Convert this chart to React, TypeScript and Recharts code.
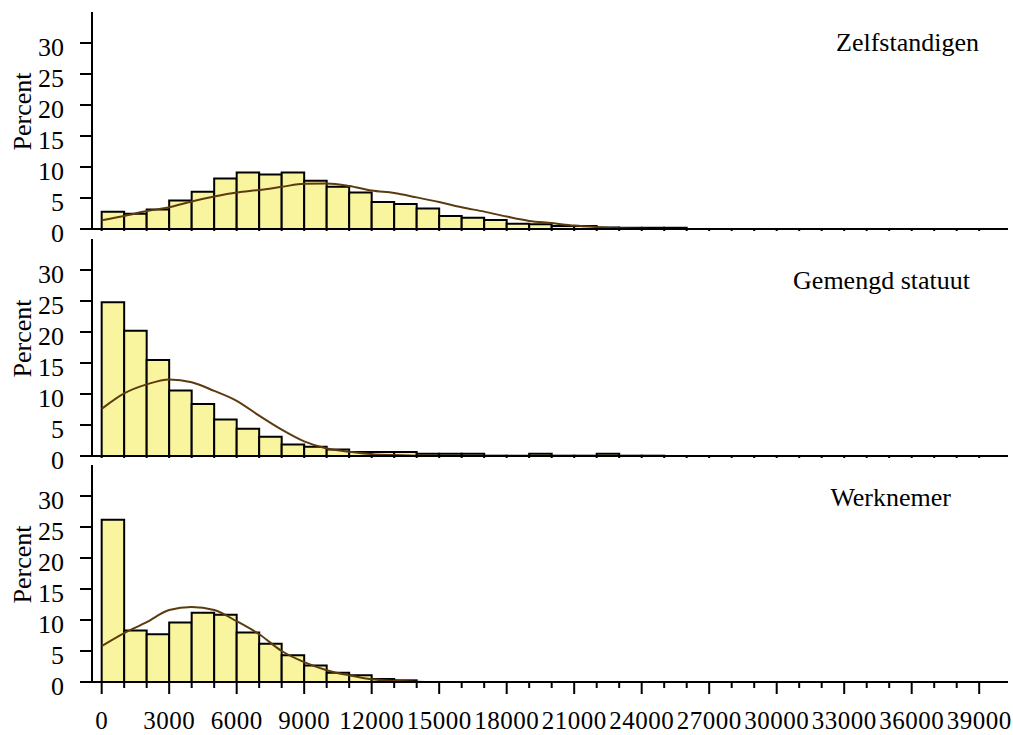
import { ComposedChart, Bar, Line, XAxis, YAxis } from 'recharts';

// bin midpoints (bins are 1000 wide, starting at 0)
const binMid = [
  500, 1500, 2500, 3500, 4500, 5500, 6500, 7500, 8500, 9500,
  10500, 11500, 12500, 13500, 14500, 15500, 16500, 17500, 18500, 19500,
  20500, 21500, 22500, 23500, 24500, 25500,
];

// percent per bin
const zelfstandigen = [
  2.8, 2.45, 3.15, 4.6, 6.0, 8.15, 9.1, 8.8, 9.1, 7.8,
  6.8, 5.9, 4.35, 4.05, 3.3, 2.1, 1.8, 1.45, 0.85, 0.75,
  0.5, 0.5, 0.25, 0.2, 0.2, 0.2,
];
const gemengd = [
  24.8, 20.2, 15.5, 10.55, 8.4, 5.9, 4.4, 3.1, 1.86, 1.5,
  1.05, 0.65, 0.65, 0.65, 0.35, 0.35, 0.35, 0.05, 0.05, 0.35,
  0.05, 0.05, 0.35, 0.05, 0.05,
];
const werknemer = [
  26.15, 8.3, 7.7, 9.6, 11.15, 10.85, 8.0, 6.15, 4.3, 2.68,
  1.5, 1.1, 0.5, 0.27,
];

// fitted normal curves, read at every 1000
const curveX = [
  0, 1000, 2000, 3000, 4000, 5000, 6000, 7000, 8000, 9000,
  10000, 11000, 12000, 13000, 14000, 15000, 16000, 17000, 18000, 19000,
  20000, 21000, 22000, 23000, 24000, 25000,
];
const zelfCurve = [
  1.4, 2.1, 2.9, 3.5, 4.45, 5.25, 5.9, 6.3, 6.8, 7.3,
  7.35, 6.95, 6.2, 5.8, 5.1, 4.35, 3.5, 2.8, 2.0, 1.3,
  0.95, 0.55, 0.3, 0.12, 0.04, 0,
];
const gemengdCurve = [
  7.6, 10.1, 11.55, 12.35, 11.9, 10.5, 8.9, 6.5, 4.25, 2.35,
  1.2, 0.7, 0.3, 0.15, 0.05, 0,
];
const werkCurve = [
  5.8, 7.9, 9.65, 11.6, 12.1, 11.6, 9.8, 7.7, 5.0, 3.2,
  1.9, 1.07, 0.43, 0.2, 0.05, 0,
];

const xTicks = [
  0, 1000, 2000, 3000, 4000, 5000, 6000, 7000, 8000, 9000,
  10000, 11000, 12000, 13000, 14000, 15000, 16000, 17000, 18000, 19000,
  20000, 21000, 22000, 23000, 24000, 25000, 26000, 27000, 28000, 29000,
  30000, 31000, 32000, 33000, 34000, 35000, 36000, 37000, 38000, 39000,
];
const yTicks = [0, 5, 10, 15, 20, 25, 30];

const titles = ['Zelfstandigen', 'Gemengd statuut', 'Werknemer'];

const FONT = "'Liberation Serif', 'DejaVu Serif', serif";
const X_DOMAIN: [number, number] = [-430, 40280];
const axisStyle = { stroke: '#000', strokeWidth: 2 };

const XTick = (props: any) => {
  const { x, y, payload, last } = props;
  const major = payload.value % 3000 === 0;
  const len = last ? (major ? 12 : 6) : 2;
  return (
    <g>
      <line x1={x} x2={x} y1={y} y2={y + len} stroke="#000" strokeWidth={2} />
      {last && major && (
        <text
          x={x}
          y={y + 47}
          textAnchor="middle"
          fontSize={25}
          letterSpacing={0.5}
          fontFamily={FONT}
          fill="#000"
        >
          {payload.value}
        </text>
      )}
    </g>
  );
};

const YTick = (props: any) => {
  const { x, y, payload } = props;
  return (
    <text x={x} y={y + 13} textAnchor="end" fontSize={26} fontFamily={FONT} fill="#000">
      {payload.value}
    </text>
  );
};

const PercentLabel = (props: any) => {
  const { viewBox } = props;
  const cx = viewBox.x + 22;
  const cy = viewBox.y + viewBox.height / 2 - 9;
  return (
    <text
      x={cx}
      y={cy}
      dy={8.5}
      transform={`rotate(-90, ${cx}, ${cy})`}
      textAnchor="middle"
      fontSize={26}
      fontFamily={FONT}
      fill="#000"
    >
      Percent
    </text>
  );
};

function Panel({ values, curve, top, last }: { values: number[]; curve: number[]; top: number; last: boolean }) {
  const bars = values.map((v, i) => ({ x: binMid[i], pct: v }));
  const fit = curve.map((v, i) => ({ x: curveX[i], fit: v }));
  return (
    <div style={{ position: 'absolute', left: 0, top }}>
      <ComposedChart
        width={1013}
        height={last ? 282 : 252}
        data={bars}
        barCategoryGap={0}
        barGap={0}
        margin={{ top: 12, right: 5, bottom: 0, left: 0 }}
      >
        <XAxis
          dataKey="x"
          type="number"
          domain={X_DOMAIN}
          allowDataOverflow
          ticks={xTicks}
          interval={0}
          tickSize={0}
          tickMargin={0}
          tickLine={false}
          axisLine={axisStyle}
          height={last ? 53 : 23}
          tick={(p: any) => <XTick {...p} last={last} />}
        />
        <XAxis
          xAxisId="top"
          dataKey="x"
          orientation="top"
          type="number"
          domain={X_DOMAIN}
          allowDataOverflow
          height={0}
          tick={false}
          tickLine={false}
          axisLine={axisStyle}
        />
        <YAxis
          type="number"
          domain={[0, 35]}
          allowDataOverflow
          ticks={yTicks}
          interval={0}
          width={92}
          tickSize={12}
          tickMargin={16}
          tickLine={axisStyle}
          axisLine={axisStyle}
          tick={(p: any) => <YTick {...p} />}
          label={<PercentLabel />}
        />
        <YAxis
          yAxisId="right"
          orientation="right"
          width={0}
          tick={false}
          tickLine={false}
          axisLine={axisStyle}
        />
        <Bar
          dataKey="pct"
          barSize={22.5}
          fill="#f9f59f"
          stroke="#000"
          strokeWidth={2}
          isAnimationActive={false}
        />
        <Line
          data={fit}
          xAxisId="top"
          dataKey="fit"
          type="monotone"
          stroke="#5c3b0f"
          strokeWidth={2}
          dot={false}
          isAnimationActive={false}
        />
      </ComposedChart>
    </div>
  );
}

const titleStyle = (right: number, baseline: number) => ({
  position: 'absolute' as const,
  right: 1013 - right,
  top: baseline - 22,
  fontFamily: FONT,
  fontSize: 26,
  lineHeight: '26px',
  whiteSpace: 'nowrap' as const,
  color: '#000',
});

export default function App() {
  return (
    <div style={{ position: 'absolute', left: 0, top: 0, width: 1013, height: 735, background: '#fff' }}>
      <Panel values={zelfstandigen} curve={zelfCurve} top={0} last={false} />
      <Panel values={gemengd} curve={gemengdCurve} top={227} last={false} />
      <Panel values={werknemer} curve={werkCurve} top={453} last={true} />
      <div style={titleStyle(979, 52)}>{titles[0]}</div>
      <div style={titleStyle(970, 290)}>{titles[1]}</div>
      <div style={titleStyle(951, 507)}>{titles[2]}</div>
    </div>
  );
}
